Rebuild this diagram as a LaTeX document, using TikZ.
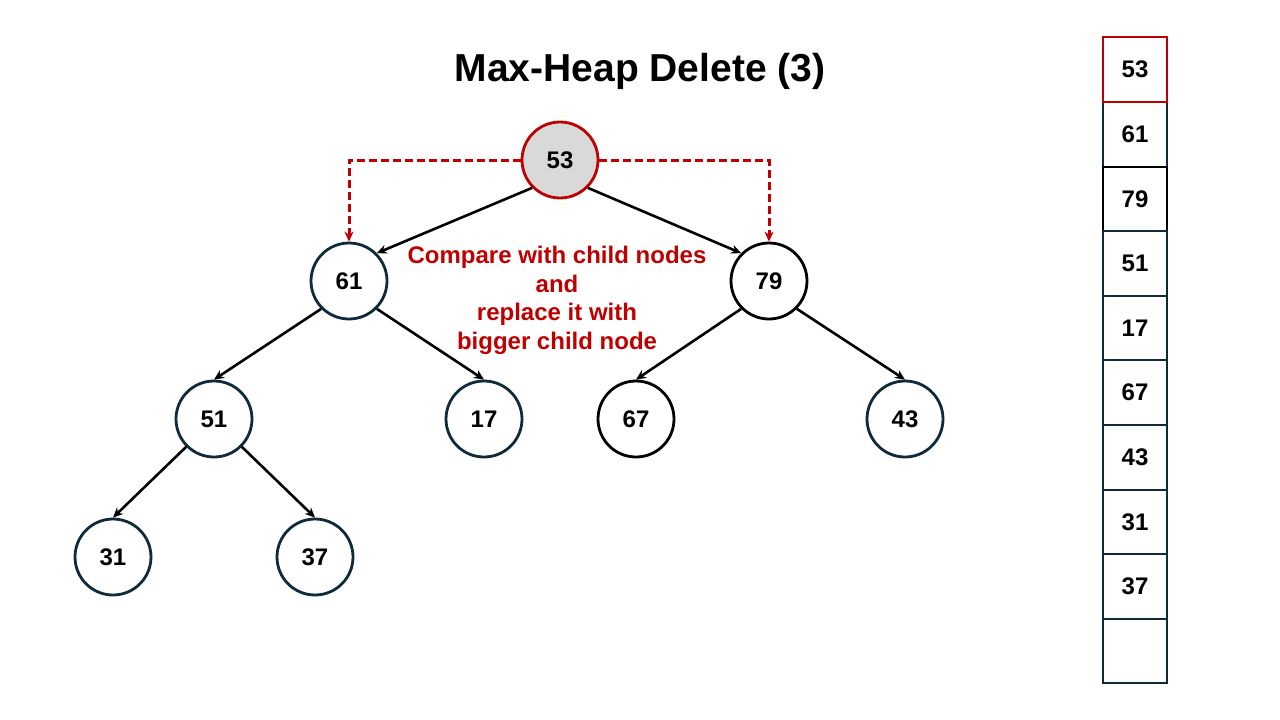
\documentclass[tikz,border=0pt]{standalone}
\usepackage{fontspec}
\setmainfont{Liberation Sans}
\usetikzlibrary{arrows.meta}
\definecolor{navy}{HTML}{0E2A3B}
\definecolor{darkred}{HTML}{C00000}
\definecolor{lightgray}{HTML}{D9D9D9}
\tikzset{
  hnode/.style={circle, draw=navy, line width=2.8pt, minimum size=76pt, inner sep=0pt,
    font=\fontsize{24}{28}\selectfont\bfseries},
  blk/.style={draw=black},
  edge/.style={line width=2.6pt, -{Stealth[length=10pt,width=9pt]}},
  cmp/.style={darkred, line width=3pt, dash pattern=on 8pt off 4pt, -{Stealth[length=10pt,width=9pt]}},
  cell/.style={rectangle, draw=navy, line width=2pt, minimum width=64pt, minimum height=64.6pt,
    inner sep=0pt, font=\fontsize{24}{28}\selectfont\bfseries}
}
\begin{document}
\begin{tikzpicture}[x=1pt,y=-1pt]
\useasboundingbox (0,0) rectangle (1280,720);
\node (title) at (640,71) {\fontsize{39}{44}\selectfont\bfseries Max-Heap Delete (3)};
% tree nodes
\node[hnode, draw=darkred, fill=lightgray] (r) at (560,160) {53};
\node[hnode] (a) at (349,281) {61};
\node[hnode, blk] (b) at (769,281) {79};
\node[hnode] (c) at (214,419) {51};
\node[hnode] (d) at (484,419) {17};
\node[hnode, blk] (e) at (636,419) {67};
\node[hnode] (f) at (905,419) {43};
\node[hnode] (g) at (113,557) {31};
\node[hnode] (h) at (315,557) {37};
% edges
\draw[edge] (r.225) -- (a.45);
\draw[edge] (r.315) -- (b.135);
\draw[edge] (a.225) -- (c.north);
\draw[edge] (a.315) -- (d.north);
\draw[edge] (b.225) -- (e.north);
\draw[edge] (b.315) -- (f.north);
\draw[edge] (c.225) -- (g.north);
\draw[edge] (c.315) -- (h.north);
% compare arrows
\draw[cmp] (r.west) -| (a.north);
\draw[cmp] (r.east) -| (b.north);
\node[darkred, align=center, font=\fontsize{24}{28.6}\selectfont\bfseries] (txt) at (557,300.5)
  {Compare with child nodes\\and\\replace it with\\bigger child node};
% array
\node[cell] (c1) at (1135,134.2) {61};
\node[cell, draw=black] (c2) at (1135,198.8) {79};
\node[cell] (c3) at (1135,263.4) {51};
\node[cell] (c4) at (1135,328.0) {17};
\node[cell] (c5) at (1135,392.6) {67};
\node[cell] (c6) at (1135,457.2) {43};
\node[cell] (c7) at (1135,521.8) {31};
\node[cell] (c8) at (1135,586.4) {37};
\node[cell] (c9) at (1135,651.0) {};
\node[cell, draw=darkred] (c0) at (1135,69.6) {53};
\end{tikzpicture}
\end{document}
